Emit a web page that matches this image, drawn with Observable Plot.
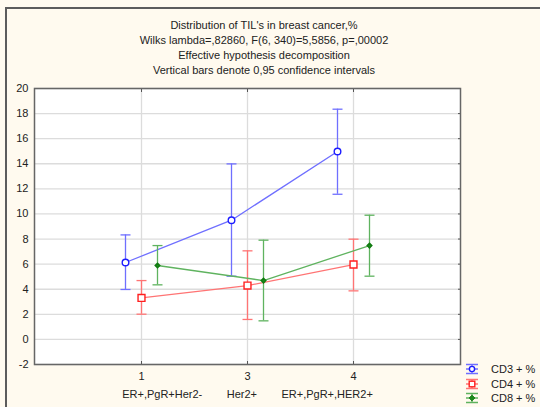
<!DOCTYPE html>
<html>
<head>
<meta charset="utf-8">
<script src="https://cdn.jsdelivr.net/npm/d3@7"></script>
<script src="https://cdn.jsdelivr.net/npm/@observablehq/plot@0.6"></script>
<style>
  html, body { margin: 0; padding: 0; background: #fffaef; }
  #wrap { position: relative; width: 540px; height: 407px; overflow: hidden; background: #fffaef;
          font-family: "Liberation Sans", Arial, sans-serif; color: #222; }
  #border { position: absolute; left: 5px; top: 7px; right: -10px; bottom: -10px;
            border-top: 2px solid #5c5c5c; border-left: 2px solid #5c5c5c; }
  #title { position: absolute; left: 0; top: 18px; width: 528px; text-align: center;
           font-size: 11px; line-height: 15px; }
  #chart { position: absolute; left: 0; top: 80px; }
  #legend { position: absolute; left: 465px; top: 362px; font-size: 11px; }
  #legend .row { display: flex; align-items: center; height: 14.5px; }
  #legend svg { margin-right: 12px; }
</style>
</head>
<body>
<div id="wrap">
  <div id="border"></div>
  <div id="title">
    <div>Distribution of TIL's in breast cancer,%</div>
    <div>Wilks lambda=,82860, F(6, 340)=5,5856, p=,00002</div>
    <div>Effective hypothesis decomposition</div>
    <div>Vertical bars denote 0,95 confidence intervals</div>
  </div>
  <div id="chart"></div>
  <div id="legend"></div>
</div>
<script>
// ---- data ----
const categories = ["ER+,PgR+Her2-", "Her2+", "ER+,PgR+,HER2+"];
const tickLabels = ["1", "3", "4"];
const seriesNames = ["CD3 + %", "CD4 + %", "CD8 + %"];
const cd3Mean = [6.13, 9.50, 14.98];
const cd3Low  = [3.98, 5.04, 11.57];
const cd3High = [8.33, 13.99, 18.35];
const cd4Mean = [3.31, 4.29, 5.97];
const cd4Low  = [2.01, 1.59, 3.87];
const cd4High = [4.69, 7.06, 7.99];
const cd8Mean = [5.89, 4.69, 7.48];
const cd8Low  = [4.35, 1.48, 5.04];
const cd8High = [7.48, 7.91, 9.90];
const yTicks = [-2, 0, 2, 4, 6, 8, 10, 12, 14, 16, 18, 20];

// ---- styles ----
const styles = [
  {line: "#6f6fff", mark: "#1d1dff", fill: "white", symbol: "circle", r: 3.3, dx: -16},
  {line: "#ff7474", mark: "#ff1f1f", fill: "white", symbol: "square", r: 3.9, dx: 0},
  {line: "#5fb35f", mark: "#0f7a0f", fill: "#1c8a1c", symbol: "diamond2", r: 2.1, dx: 16}
];
const hline = {draw(ctx, size) { const w = Math.sqrt(size / Math.PI); ctx.moveTo(-w, 0); ctx.lineTo(w, 0); }};

const seriesData = [
  [cd3Mean, cd3Low, cd3High],
  [cd4Mean, cd4Low, cd4High],
  [cd8Mean, cd8Low, cd8High]
].map(([m, lo, hi], s) => tickLabels.map((code, i) => ({
  series: seriesNames[s], code, category: categories[i], mean: m[i], lo: lo[i], hi: hi[i]
})));

const marks = [
  Plot.frame({fill: "white", stroke: "none"}),
  Plot.gridY(yTicks, {stroke: "#dcdcdc", strokeOpacity: 1, strokeWidth: 1.3}),
  Plot.gridX(tickLabels, {stroke: "#dcdcdc", strokeOpacity: 1, strokeWidth: 1.3}),
  Plot.axisY(yTicks, {tickSize: 0, tickPadding: 6, tickFormat: d => String(d), label: null, fill: "#222"}),
  Plot.axisY(yTicks, {anchor: "right", tickSize: -3, tickFormat: () => "", label: null, stroke: "#555"}),
  Plot.axisX(tickLabels, {tickSize: 0, tickPadding: 8, label: null, fill: "#222"}),
  Plot.axisX(tickLabels, {anchor: "bottom", tickSize: -3, tickFormat: () => "", label: null, stroke: "#555"}),
  Plot.axisX(tickLabels, {anchor: "top", tickSize: -3, tickFormat: () => "", label: null, stroke: "#555"}),
  Plot.text([categories.join("\u00a0".repeat(8))], {frameAnchor: "bottom", dy: 33, fill: "#222", fontSize: 11})
];

seriesData.forEach((rows, s) => {
  const st = styles[s];
  marks.push(
    Plot.line(rows, {x: "code", y: "mean", dx: st.dx, stroke: st.line, strokeWidth: 1.3}),
    Plot.ruleX(rows, {x: "code", y1: "lo", y2: "hi", dx: st.dx, stroke: st.line, strokeWidth: 1.3}),
    Plot.dot(rows, {x: "code", y: "lo", dx: st.dx, symbol: hline, r: 5, stroke: st.line, strokeWidth: 1.3}),
    Plot.dot(rows, {x: "code", y: "hi", dx: st.dx, symbol: hline, r: 5, stroke: st.line, strokeWidth: 1.3}),
    Plot.dot(rows, {x: "code", y: "mean", dx: st.dx, symbol: st.symbol, r: st.r, stroke: st.mark, fill: st.fill, strokeWidth: 1.4})
  );
});

marks.push(Plot.frame({stroke: "#666", strokeWidth: 1.5}));

const chart = Plot.plot({
  width: 540,
  height: 327,
  marginLeft: 34,
  marginRight: 80,
  marginTop: 8,
  marginBottom: 43,
  style: {background: "transparent", fontFamily: "'Liberation Sans', Arial, sans-serif", fontSize: "11px", color: "#222"},
  x: {type: "point", domain: tickLabels, padding: 1},
  y: {domain: [-2, 20]},
  marks
});
document.getElementById("chart").appendChild(chart);

// ---- legend ----
const legend = document.getElementById("legend");
seriesNames.forEach((name, s) => {
  const st = styles[s];
  const row = document.createElement("div");
  row.className = "row";
  const ns = "http://www.w3.org/2000/svg";
  const svg = document.createElementNS(ns, "svg");
  svg.setAttribute("width", 14); svg.setAttribute("height", 12);
  let inner = "";
  [1.5, 6, 10.5].forEach(y => { inner += `<line x1="1" x2="13" y1="${y}" y2="${y}" stroke="${st.line}" stroke-width="1.5"/>`; });
  inner += `<line x1="7" x2="7" y1="1.5" y2="10.5" stroke="${st.line}" stroke-width="1.3"/>`;
  if (st.symbol === "circle") inner += `<circle cx="7" cy="6" r="2.6" fill="white" stroke="${st.mark}" stroke-width="1.4"/>`;
  else if (st.symbol === "square") inner += `<rect x="4.2" y="3.2" width="5.6" height="5.6" fill="white" stroke="${st.mark}" stroke-width="1.4"/>`;
  else inner += `<path d="M7,3.2L9.8,6L7,8.8L4.2,6Z" fill="${st.fill}" stroke="${st.mark}" stroke-width="1"/>`;
  svg.innerHTML = inner;
  row.appendChild(svg);
  const t = document.createElement("span");
  t.textContent = name;
  row.appendChild(t);
  legend.appendChild(row);
});
</script>
</body>
</html>
